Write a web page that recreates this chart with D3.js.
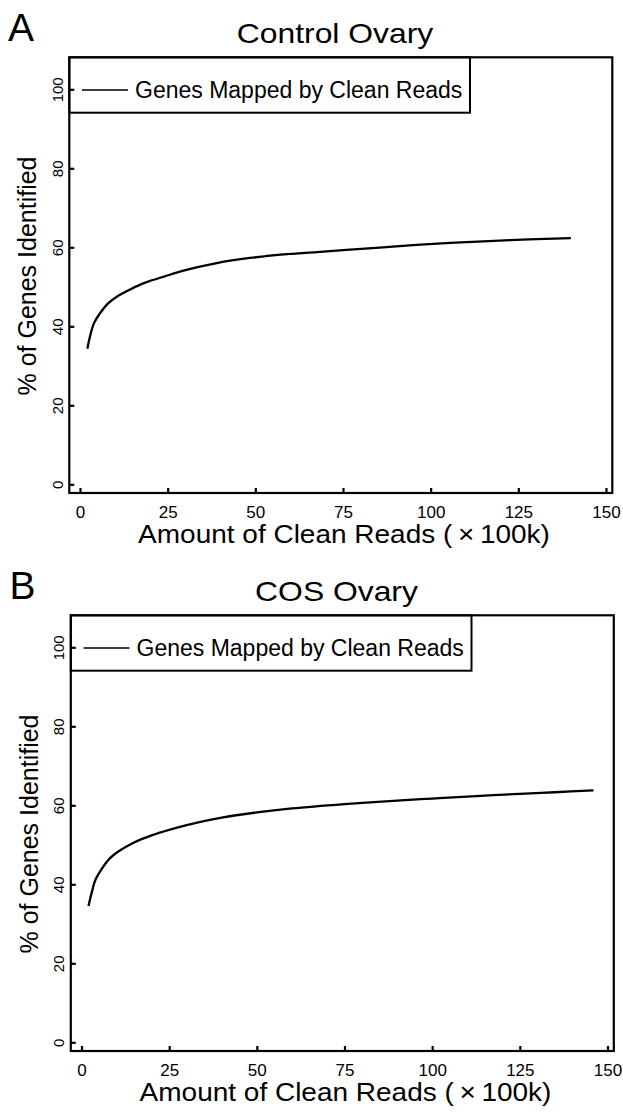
<!DOCTYPE html>
<html>
<head>
<meta charset="utf-8">
<script src="https://cdn.jsdelivr.net/npm/d3@7"></script>
<style>
  body { margin: 0; background: #fff; }
  text { font-family: 'Liberation Sans', Arial, sans-serif; fill: #000; }
</style>
</head>
<body>
<div id="chart"></div>
<script>
// panel labels and titles
const panelLetters = ['A', 'B'];
const panelTitles = ['Control Ovary', 'COS Ovary'];
const legendLabel = 'Genes Mapped by Clean Reads';
const xTitle = 'Amount of Clean Reads (\u2009\u00D7\u2009100k)';
const yTitle = '% of Genes Identified';

// tick values
const xTicks = [0, 25, 50, 75, 100, 125, 150];
const yTicks = [0, 20, 40, 60, 80, 100];

// saturation curve, control ovary
const controlReads = [2.1, 2.85, 4, 5.7, 8, 10.5, 14, 17, 20, 24, 29.5, 39, 48.5, 58, 67.5, 77, 86.5, 96, 105.5, 115, 128, 140];
const controlPct = [34.3, 37.4, 40.8, 43.3, 45.8, 47.5, 49.2, 50.5, 51.5, 52.6, 54.1, 56.0, 57.3, 58.2, 58.8, 59.4, 60.0, 60.6, 61.1, 61.5, 62.0, 62.3];

// saturation curve, COS ovary
const cosReads = [2, 3, 4, 5.7, 8, 10.5, 15, 20, 25, 30, 40, 50, 60, 75, 90, 100, 110, 125, 135, 146];
const cosPct = [34.5, 38.2, 41.2, 43.8, 46.5, 48.3, 50.6, 52.4, 53.8, 55.0, 56.9, 58.2, 59.2, 60.3, 61.2, 61.7, 62.2, 62.9, 63.3, 63.8];

const W = 623, H = 1115;

const svg = d3.select('#chart')
  .append('svg')
    .attr('width', W)
    .attr('height', H);

function drawPanel(idx, xs, ys, dx, dy) {
  const g = svg.append('g')
    .attr('transform', `translate(${dx}, ${dy})`);

  // plot frame in pixels
  const left = 69.3, right = 612.3, top = 57.3, bottom = 493;

  const xScale = d3.scaleLinear()
    .domain([-3.05, 151.8])
    .range([left, right]);

  const yScale = d3.scaleLinear()
    .domain([-2.2, 108.1])
    .range([bottom, top]);

  // panel letter
  g.append('text')
    .attr('x', 8)
    .attr('y', 41)
    .style('font-size', '39px')
    .text(panelLetters[idx]);

  // panel title
  g.append('text')
    .attr('text-anchor', 'middle')
    .attr('transform', `translate(${335}, ${43.3}) scale(1.18, 1)`)
    .style('font-size', '27px')
    .text(panelTitles[idx]);

  // x axis (ticks point inward)
  const xAxis = d3.axisBottom(xScale)
    .tickValues(xTicks)
    .tickSize(-5)
    .tickSizeOuter(0)
    .tickPadding(13);

  const gx = g.append('g')
    .attr('transform', `translate(0, ${bottom})`)
    .call(xAxis);
  gx.select('.domain').remove();
  gx.selectAll('.tick line').attr('stroke', '#000').attr('stroke-width', 2.2);
  gx.selectAll('.tick text')
    .style('font-size', '17px')
    .style('font-family', "'Liberation Sans', Arial, sans-serif");

  // y axis
  const yAxis = d3.axisLeft(yScale)
    .tickValues(yTicks)
    .tickSize(-5)
    .tickSizeOuter(0);

  const gy = g.append('g')
    .attr('transform', `translate(${left}, 0)`)
    .call(yAxis);
  gy.select('.domain').remove();
  gy.selectAll('.tick line').attr('stroke', '#000').attr('stroke-width', 2.2);
  gy.selectAll('.tick text')
    .attr('x', null)
    .attr('dy', null)
    .attr('text-anchor', 'middle')
    .attr('transform', 'rotate(-90) translate(0, -6.5)')
    .style('font-size', '15px')
    .style('font-family', "'Liberation Sans', Arial, sans-serif");

  // curve
  const data = xs.map((x, i) => ({ x: x, y: ys[i] }));
  const line = d3.line()
    .x(d => xScale(d.x))
    .y(d => yScale(d.y))
    .curve(d3.curveCatmullRom.alpha(0.5));

  g.append('path')
    .datum(data)
    .attr('d', line)
    .attr('fill', 'none')
    .attr('stroke', '#000')
    .attr('stroke-width', 2.3);

  // frame
  g.append('rect')
    .attr('x', left)
    .attr('y', top)
    .attr('width', right - left)
    .attr('height', bottom - top)
    .attr('fill', 'none')
    .attr('stroke', '#000')
    .attr('stroke-width', 2.2);

  // legend
  const legRight = 470, legBottom = 112.7, legMid = 90;
  g.append('rect')
    .attr('x', left)
    .attr('y', top)
    .attr('width', legRight - left)
    .attr('height', legBottom - top)
    .attr('fill', 'none')
    .attr('stroke', '#000')
    .attr('stroke-width', 2);

  g.append('line')
    .attr('x1', 82)
    .attr('x2', 128)
    .attr('y1', legMid)
    .attr('y2', legMid)
    .attr('stroke', '#000')
    .attr('stroke-width', 1.6);

  g.append('text')
    .attr('x', 135)
    .attr('y', legMid)
    .attr('dy', '0.35em')
    .style('font-size', '23px')
    .text(legendLabel);

  // axis titles
  g.append('text')
    .attr('text-anchor', 'middle')
    .attr('transform', `translate(${344}, ${543}) scale(1.12, 1)`)
    .style('font-size', '25px')
    .text(xTitle);

  g.append('text')
    .attr('text-anchor', 'middle')
    .attr('transform', `translate(${36}, ${276}) rotate(-90)`)
    .style('font-size', '25px')
    .text(yTitle);
}

drawPanel(0, controlReads, controlPct, 0, 0);
drawPanel(1, cosReads, cosPct, 1.5, 558);
</script>
</body>
</html>
